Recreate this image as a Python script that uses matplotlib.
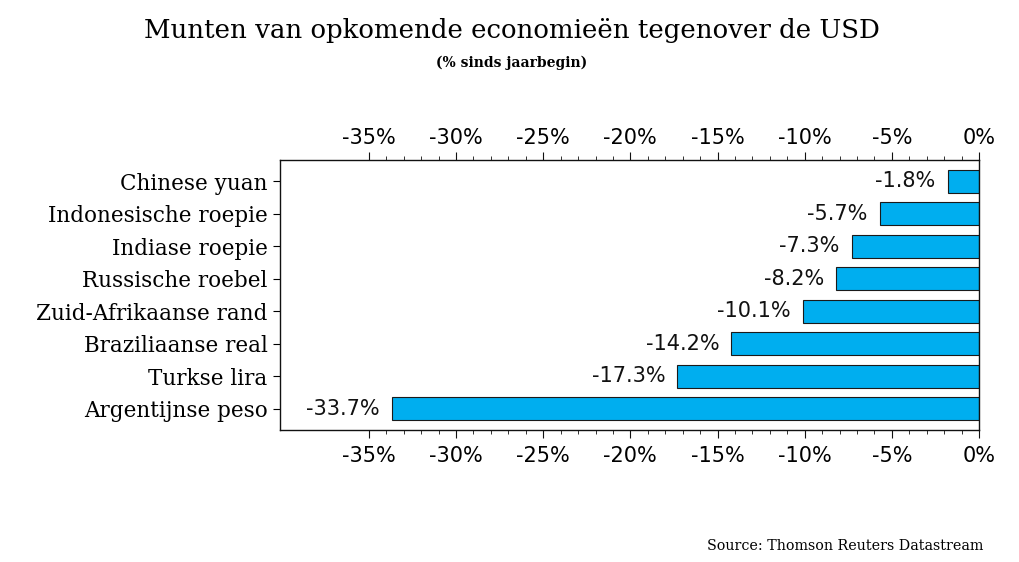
import matplotlib.pyplot as plt
import matplotlib.transforms as mtransforms
from matplotlib.ticker import FixedLocator
import numpy as np

currencies = ['Chinese yuan', 'Indonesische roepie', 'Indiase roepie', 'Russische roebel',
              'Zuid-Afrikaanse rand', 'Braziliaanse real', 'Turkse lira', 'Argentijnse peso']
change_pct = [-1.8, -5.7, -7.3, -8.2, -10.1, -14.2, -17.3, -33.7]
major_ticks = [-35, -30, -25, -20, -15, -10, -5, 0]

fig = plt.figure(figsize=(10.2, 5.62), dpi=100)
ax = fig.add_axes([0.2745, 0.2349, 0.9598 - 0.2745, 0.7153 - 0.2349])

y = np.arange(len(currencies))
ax.barh(y, change_pct, height=0.7, color='#00aeef', edgecolor='#1a1a1a', linewidth=0.8, zorder=2)

# value labels just left of each bar end
for yi, v in zip(y, change_pct):
    ax.text(v - 0.7, yi, f'{v:.1f}%', ha='right', va='center', fontsize=15,
            family='DejaVu Sans', color='#111111')

ax.set_xlim(-40.1, 0)
ax.set_ylim(len(currencies) - 0.35, -0.65)

ax.xaxis.set_major_locator(FixedLocator(major_ticks))
ax.xaxis.set_minor_locator(FixedLocator([t for t in range(-35, 1) if t % 5 != 0]))
ax.set_xticklabels([f'{t}%' for t in major_ticks])
ax.tick_params(axis='x', which='both', top=True, labeltop=True, bottom=True, labelbottom=True,
               direction='out', labelsize=15, color='#111111')
ax.tick_params(axis='x', which='major', length=6, pad=3)
ax.tick_params(axis='x', which='minor', length=3)

# push the bottom labels down a little
shift = mtransforms.ScaledTranslation(0, -4 / 100, fig.dpi_scale_trans)
for t in ax.xaxis.get_major_ticks():
    t.label1.set_transform(t.label1.get_transform() + shift)

ax.set_yticks(y)
ax.set_yticklabels(currencies, family='DejaVu Serif', fontsize=15.5)
ax.tick_params(axis='y', direction='out', length=5, pad=4)

for s in ax.spines.values():
    s.set_linewidth(1.0)
    s.set_color('#111111')

fig.text(0.502, 0.945, 'Munten van opkomende economieën tegenover de USD', ha='center', va='center',
         family='DejaVu Serif', fontsize=18.7)
fig.text(0.502, 0.888, '(% sinds jaarbegin)', ha='center', va='center',
         family='DejaVu Serif', fontsize=10, fontweight='bold')
fig.text(0.964, 0.028, 'Source: Thomson Reuters Datastream', ha='right', va='center',
         family='DejaVu Serif', fontsize=10.3)

fig.savefig('out.png', dpi=100)
